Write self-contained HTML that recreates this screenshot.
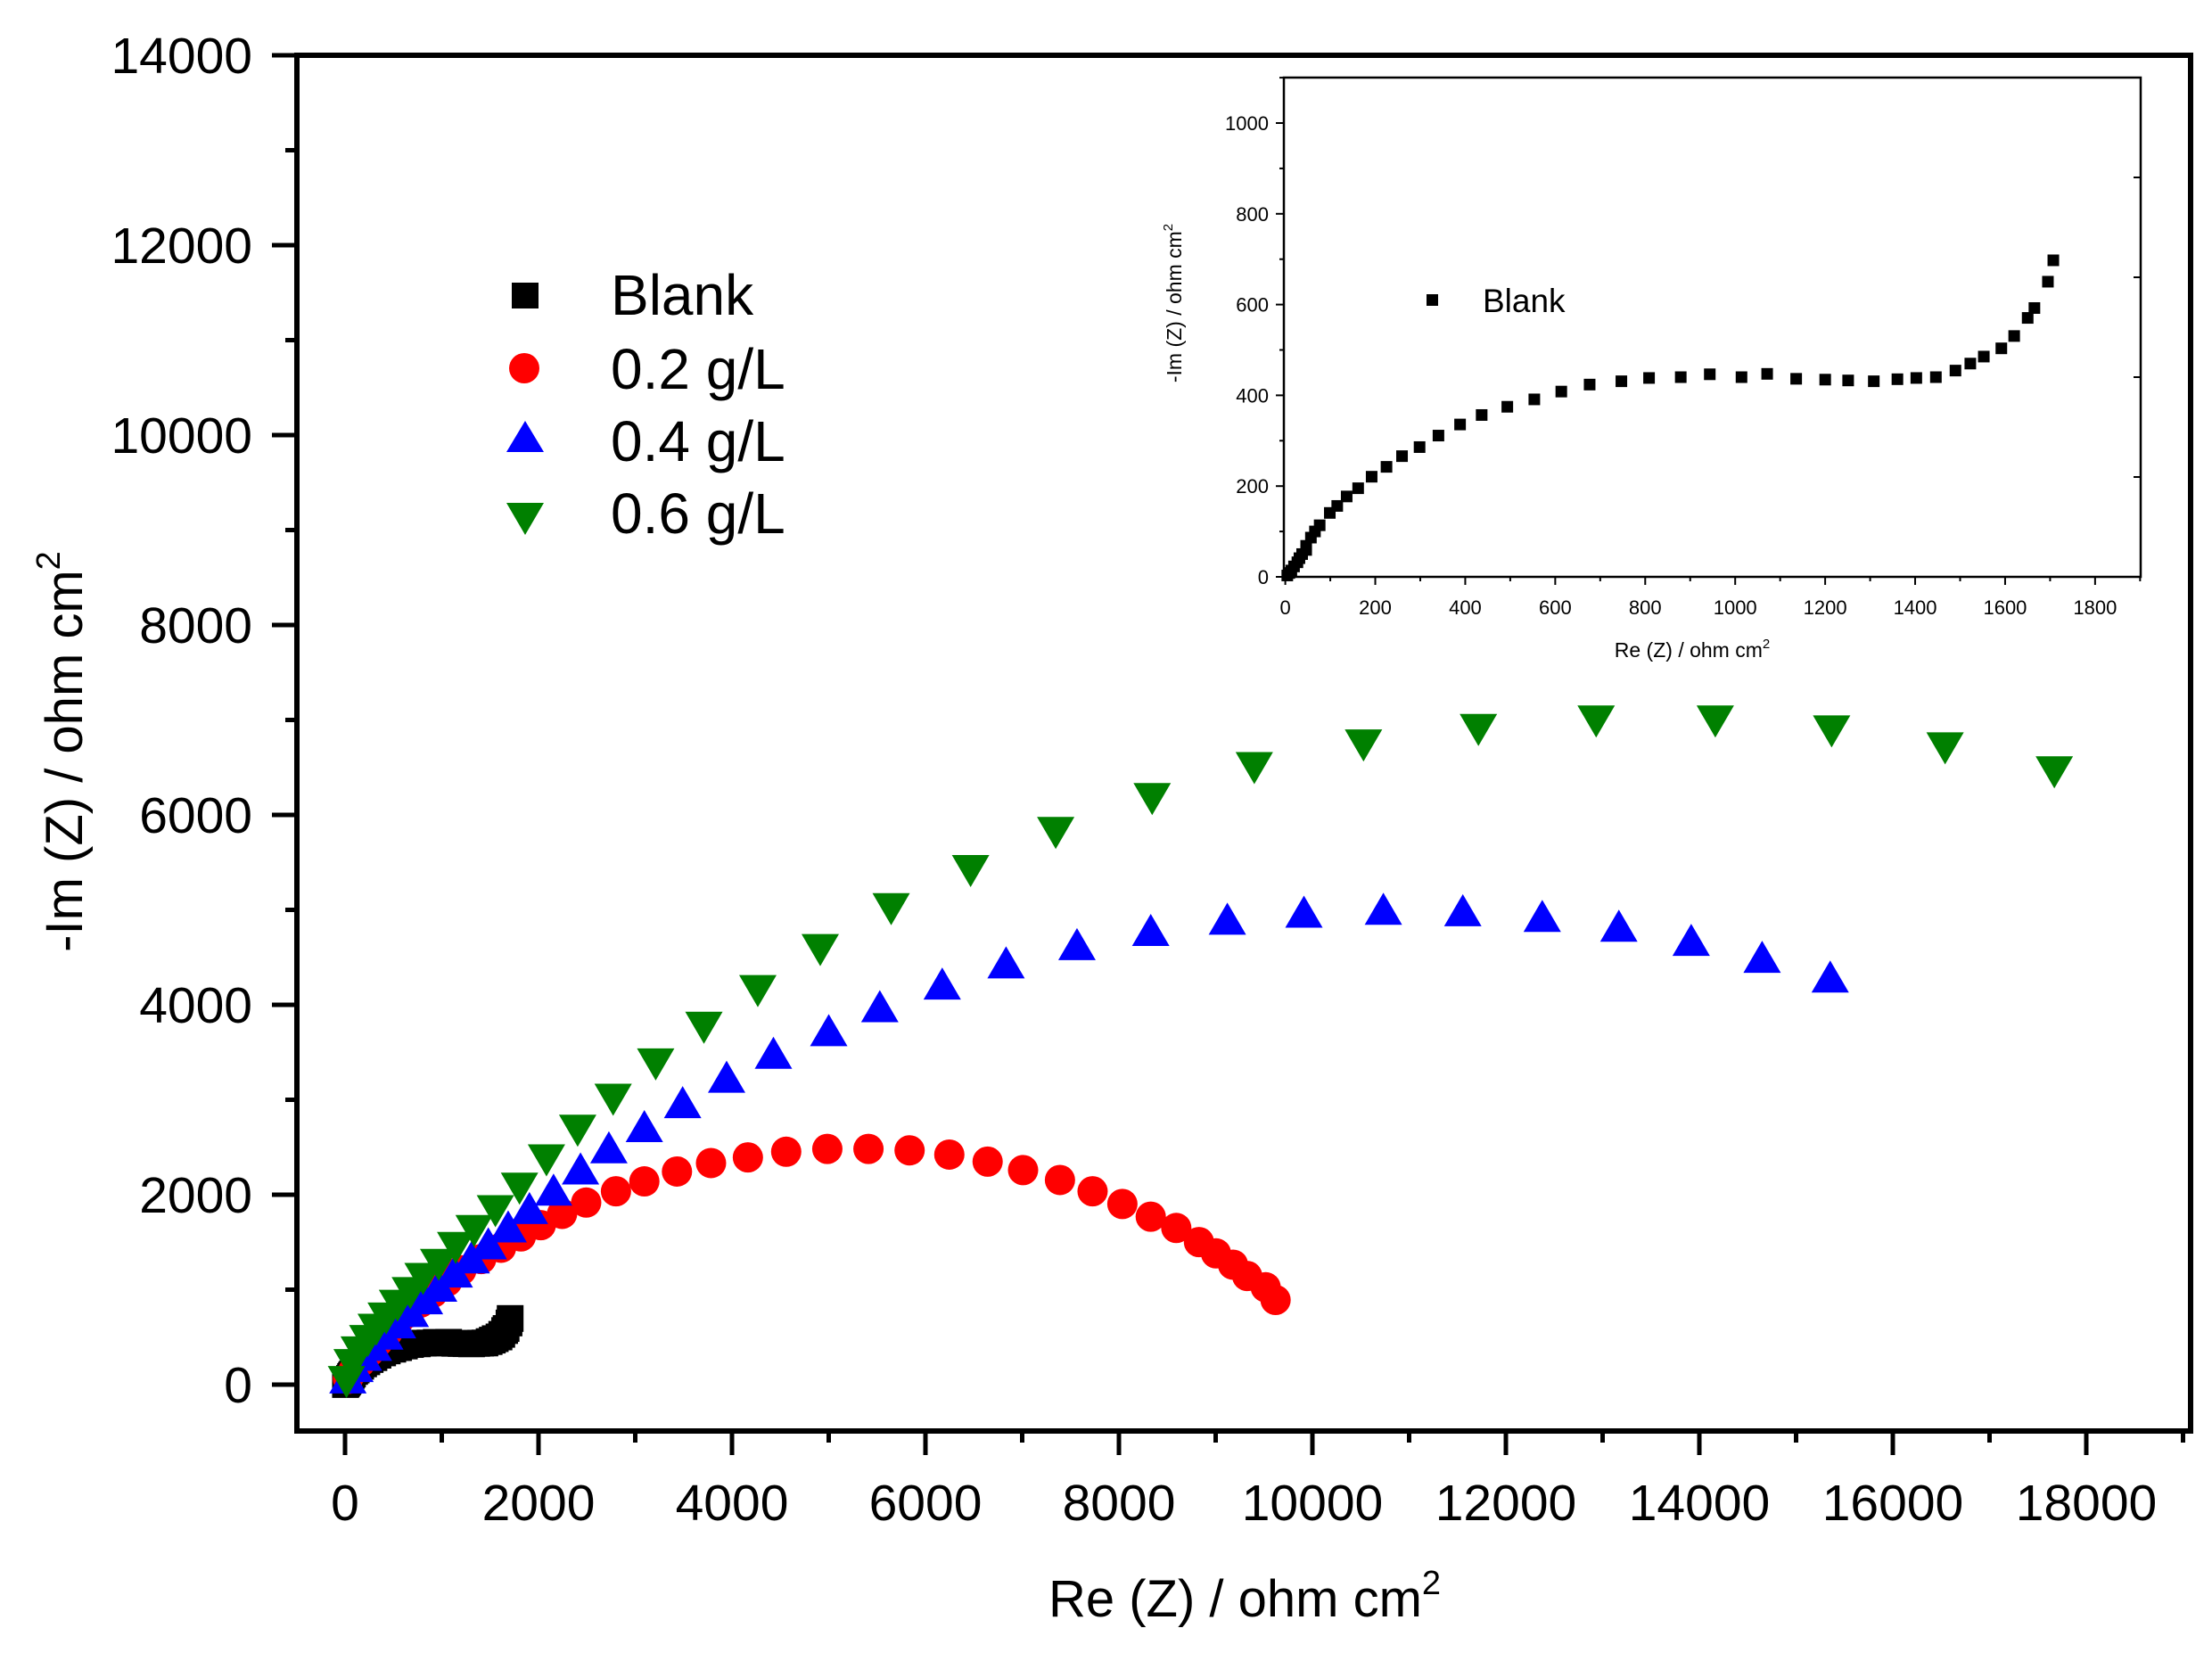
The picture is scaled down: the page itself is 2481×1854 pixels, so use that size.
<!DOCTYPE html>
<html><head><meta charset="utf-8"><style>
html,body{margin:0;padding:0;background:#fff;}
svg{display:block;}
text{font-family:"Liberation Sans",Arial,sans-serif;fill:#000;}
</style></head><body>
<svg id="s" width="2481" height="1854" viewBox="0 0 2481 1854" xmlns="http://www.w3.org/2000/svg">
<rect width="2481" height="1854" fill="#fff"/>
<g id="g"></g>
<!-- legend -->
<rect x="574" y="317" width="30" height="29" fill="#000"/>
<circle cx="588" cy="413" r="17" fill="#f00"/>
<polygon points="568,507 610,507 589,472" fill="#00f"/>
<polygon points="568,564 610,564 589,600" fill="#008000"/>
<text x="685" y="353" font-size="64">Blank</text>
<text x="685" y="436" font-size="64">0.2 g/L</text>
<text x="685" y="517" font-size="64">0.4 g/L</text>
<text x="685" y="598" font-size="64">0.6 g/L</text>
<!-- axis titles -->
<text x="1396" y="1813" font-size="58" text-anchor="middle">Re (Z) / ohm cm<tspan font-size="38" dy="-25">2</tspan></text>
<text transform="translate(92,843) rotate(-90)" font-size="58" text-anchor="middle">-Im (Z) / ohm cm<tspan font-size="38" dy="-25">2</tspan></text>
<!-- inset labels -->
<text x="1898" y="737" font-size="23" text-anchor="middle">Re (Z) / ohm cm<tspan font-size="15" dy="-10">2</tspan></text>
<text transform="translate(1325,340) rotate(-90)" font-size="23" text-anchor="middle">-Im (Z) / ohm cm<tspan font-size="15" dy="-10">2</tspan></text>
<rect x="1600" y="330" width="13" height="13" fill="#000"/>
<text x="1663" y="350" font-size="37">Blank</text>
</svg>
<script>
var NS="http://www.w3.org/2000/svg",g=document.getElementById("g");
function el(t,a,txt){var e=document.createElementNS(NS,t);for(var k in a)e.setAttribute(k,a[k]);if(txt!=null)e.textContent=txt;g.appendChild(e);return e;}
function ln(x1,y1,x2,y2,w){el("line",{x1:x1,y1:y1,x2:x2,y2:y2,stroke:"#000","stroke-width":w});}
var L=333,T=62,R=2457,B=1605;
function mx(v){return 387+v*0.1085;} function my(v){return 1553-v*0.1065;}
el("rect",{x:L,y:T,width:R-L,height:B-T,fill:"none",stroke:"#000","stroke-width":6});
for(var v=0;v<=19000;v+=1000){var x=mx(v);if(x>R)break;var maj=v%2000==0;ln(x,B,x,B+(maj?27:13),5);
 if(maj)el("text",{x:x,y:1705,"font-size":57,"text-anchor":"middle"},String(v));}
for(var v=0;v<=14000;v+=1000){var y=my(v);var maj=v%2000==0;ln(L,y,L-(maj?28:13),y,5);
 if(maj)el("text",{x:283,y:y+20,"font-size":57,"text-anchor":"end"},String(v));}
function P(dx,dy){return [387+(dx-244)*1.591,1553-(980-dy)*1.583];}
var bz=[[190,1312],[193,1306],[196,1300],[200,1290],[205,1280],[208,1270],[212,1260],[218,1250],[218,1240],[225,1220],[231,1205],[238,1190],[253,1160],[264,1143],[278,1120],[295,1100],[315,1072],[337,1048],[360,1022],[386,1000],[414,972],[446,945],[478,922],[516,902],[556,884],[596,865],[638,848],[685,840],[726,832],[773,830],[816,823],[863,830],[901,822],[944,834],[987,836],[1021,838],[1059,840],[1094,835],[1122,832],[1151,830],[1180,814],[1202,797],[1222,780],[1248,760],[1267,730],[1287,686],[1297,662],[1317,598],[1325,546]];
bz.forEach(function(p){var xd=(p[0]-187)*1.5,yd=(1313-p[1])*1000/1101;el("rect",{x:mx(xd)-15,y:my(yd)-15,width:30,height:30,fill:"#000"});});
var red=[[246,976],[250,970],[255,964],[261,957],[267,950],[274,943],[281,936],[289,929],[297,922],[306,915],[316,907],[326,899],[340,891],[354,883],[368,875],[382,867],[397,859],[414,851],[435,843],[455,836],[478,829],[502,823],[528,819],[555,815],[584,813],[613,813],[642,814],[670,817],[697,822],[722,828],[748,835],[771,843],[792,852],[812,861],[830,869],[846,879],[858,887],[870,895],[880,903],[893,911],[900,920]];
red.forEach(function(p){var q=P(p[0],p[1]);el("circle",{cx:q[0],cy:q[1],r:17,fill:"#f00"});});
var blue=[[246,978],[251,970],[257,962],[264,955],[272,947],[281,939],[290,931],[300,922],[310,913],[321,903],[333,893],[345,883],[359,871],[374,858],[391,845],[410,830],[430,815],[455,800],[482,783],[513,765],[546,748],[585,732],[621,715],[665,699],[710,684],[760,671],[812,661],[866,653],[920,648],[976,646],[1032,647],[1088,651],[1142,658],[1193,668],[1243,680],[1291,694]];
blue.forEach(function(p){var q=P(p[0],p[1]);el("polygon",{points:(q[0]-21)+","+(q[1]+13)+" "+(q[0]+21)+","+(q[1]+13)+" "+q[0]+","+(q[1]-23),fill:"#00f"});});
var green=[[245,975],[249,963],[254,954],[260,946],[266,938],[273,930],[281,921],[290,912],[299,902],[310,892],[322,880],[335,868],[350,854],[367,838],[386,818],[408,797],[433,775],[463,750],[497,724],[535,698],[579,669],[629,640],[685,613],[745,586],[813,562],[885,540],[962,524],[1043,513],[1126,507],[1210,507],[1292,514],[1372,526],[1449,543]];
green.forEach(function(p){var q=P(p[0],p[1]);el("polygon",{points:(q[0]-21)+","+(q[1]-13)+" "+(q[0]+21)+","+(q[1]-13)+" "+q[0]+","+(q[1]+23),fill:"#008000"});});
var iL=1440,iT=87,iR=2401,iB=647;
function ix(v){return 1441.6+v*0.5046;} function iy(v){return 647-v*0.509;}
el("rect",{x:iL,y:iT,width:iR-iL,height:iB-iT,fill:"#fff",stroke:"#000","stroke-width":2.5});
for(var v=0;v<=1900;v+=100){var x=ix(v);if(x>iR)break;var maj=v%200==0;ln(x,iB,x,iB+(maj?9:5),2);
 if(maj)el("text",{x:x,y:689,"font-size":22,"text-anchor":"middle"},String(v));}
for(var v=0;v<=1100;v+=100){var y=iy(v);var maj=v%200==0;ln(iL,y,iL-(maj?9:5),y,2);
 if(maj)el("text",{x:1423,y:y+8,"font-size":22,"text-anchor":"end"},String(v));}
[199,311,423,535].forEach(function(y){ln(iR,y,iR-8,y,2);});
bz.forEach(function(p){var x=1300+p[0]/1.321,y=40+p[1]/2.167;el("rect",{x:x-6.5,y:y-6.5,width:13,height:13,fill:"#000"});});
</script>
</body></html>
